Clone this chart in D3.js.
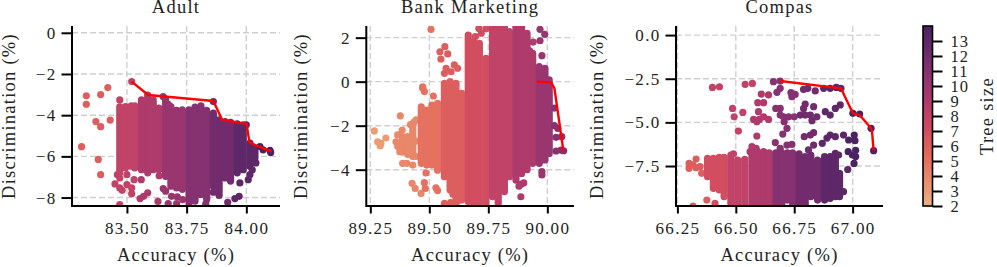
<!DOCTYPE html>
<html><head><meta charset="utf-8">
<script src="https://cdnjs.cloudflare.com/ajax/libs/d3/7.8.5/d3.min.js"></script>
<style>html,body{margin:0;padding:0;background:#fff}svg{display:block}
text{font-family:"Liberation Serif",serif;fill:#222}</style></head><body><div id="c"></div>
<script>
// Stacked runs: [tree size, accuracy, discrimination low, discrimination high]
const adultRuns=[
[8,83.47,-6.8,-3.6],[8,83.494,-6.56,-3.58],[8,83.518,-6.48,-3.55],[8,83.533,-6.56,-3.55],
[9,83.561,-6.65,-3.26],[9,83.587,-6.8,-3.02],[9,83.61,-6.65,-3.26],[9,83.634,-6.65,-3.66],
[10,83.662,-6.97,-3.26],[10,83.684,-7.45,-3.58],[10,83.708,-7.53,-3.77],[10,83.732,-7.6,-3.74],
[11,83.76,-8.26,-3.74],[11,83.785,-8.18,-3.61],[11,83.81,-7.85,-3.55],[11,83.834,-8.1,-3.77],
[12,83.862,-7.45,-3.9],[12,83.886,-7.9,-4.23],[12,83.911,-7.05,-4.31],[12,83.934,-7.2,-4.35],
[13,83.962,-6.8,-4.42],[13,83.987,-6.65,-4.47],[13,84.015,-6.48,-5.35],[13,84.036,-6.08,-5.6]];
// Single dots: [tree size, accuracy, discrimination]
const adultDots=[
[6,83.31,-5.53],[6,83.33,-3.06],[6,83.33,-3.47],[6,83.37,-4.31],[6,83.39,-4.56],[6,83.39,-3.0],[6,83.42,-2.66],[6,83.43,-4.24],[6,83.38,-6.15],[6,83.39,-6.89],
[8,83.47,-3.26],[8,83.46,-6.89],[8,83.47,-7.05],[8,83.45,-7.34],[8,83.47,-7.53],[8,83.5,-7.37],[8,83.5,-6.89],[8,83.52,-7.53],[8,83.53,-7.13],[8,83.52,-7.81],[8,83.48,-7.65],[8,83.47,-8.34],[8,83.52,-2.37],
[9,83.56,-7.13],[9,83.555,-8.05],[9,83.587,-7.77],[9,83.635,-6.94],[9,83.63,-8.19],[9,83.57,-7.94],
[10,83.652,-3.1],[10,83.673,-3.47],[10,83.662,-7.69],[10,83.687,-7.94],[10,83.711,-7.97],[10,83.673,-8.29],[10,83.708,-8.29],[10,83.733,-8.1],[10,83.652,-7.56],
[11,83.83,-8.3],
[12,83.862,-3.34],[12,83.862,-7.74],[12,83.883,-7.61],[12,83.922,-8.23],
[13,84.0,-4.47],[13,83.973,-7.29],[13,83.952,-8.05],[13,83.97,-7.94],[13,84.008,-7.13],[13,84.015,-6.89],[13,84.025,-6.65],[13,84.04,-6.32],
[14,84.057,-5.52],[14,84.07,-5.68],[14,84.099,-5.71],[14,84.102,-5.81]];
const adultFront=[[83.52,-2.37],[83.589,-3.02],[83.862,-3.31],[83.899,-4.23],[84.001,-4.42],[84.013,-5.32],[84.05,-5.52],[84.106,-5.76]];

const bankRuns=[
[4,89.387,-3.2,-2.5],[4,89.408,-3.3,-2.5],[4,89.43,-3.4,-2.1],
[5,89.466,-3.71,-1.14],[5,89.489,-3.79,-1.29],[5,89.511,-3.79,-1.06],[5,89.535,-4.02,-0.98],
[6,89.564,-4.32,-0.08],[6,89.588,-4.92,0],[6,89.613,-5.53,-0.08],[6,89.637,-5.38,-0.53],
[7,89.665,-5.45,2.12],[7,89.688,-5.65,1.82],[7,89.712,-5.65,1.74],[7,89.74,-5.65,1.06],
[8,89.768,-5.23,2.55],[8,89.792,-5.53,2.55],[8,89.818,-5,2.55],[8,89.839,-4.32,2.27],
[9,89.867,-4.47,2.55],[9,89.891,-4.17,2.55],[9,89.914,-4,2.2],[9,89.938,-3.71,1.29],
[10,89.966,-3.71,0.68],[10,89.99,-3.56,0.61],[10,90.008,-3.26,0.08]];
const bankDots=[
[3,89.267,-2.24],[3,89.281,-2.73],[3,89.292,-2.91],[3,89.316,-2.56],[3,89.295,-2.8],
[4,89.377,-1.55],[4,89.427,-4.62],[4,89.44,-4.85],[4,89.465,-5.08],[4,89.366,-2.42],[4,89.359,-2.73],[4,89.366,-2.95],[4,89.375,-3.18],[4,89.385,-2.2],[4,89.387,-3.71],[4,89.405,-3.71],[4,89.43,-3.79],[4,89.42,-1.95],[4,89.434,-1.85],[4,89.444,-1.74],[4,89.444,-3.4],[4,89.444,-2.7],
[5,89.472,-0.23],[5,89.479,-0.45],[5,89.472,-0.3],[5,89.517,-0.65],[5,89.507,2.38],[5,89.479,-4.59],[5,89.483,-4.85],[5,89.486,-4.15],[5,89.528,-4.82],[5,89.535,-4.95],
[6,89.566,1.59],[6,89.545,1.36],[6,89.578,1.26],[6,89.549,1.03],[6,89.571,0.61],[6,89.606,0.76],[6,89.592,0.45],[6,89.62,0.61],[6,89.564,0.38],[6,89.564,-5.53],[6,89.59,-5.5],[6,89.6,-5.12],[6,89.62,-5.42],
[7,89.71,2.42],[7,89.72,2.2],[7,89.695,2.05],[7,89.74,2.4],
[9,89.89,-4.65],[9,89.9,-4.6],[9,89.88,-4.75],[9,89.888,-5.23],[9,89.94,1.8],[9,89.925,1.4],
[10,89.969,2.38],[10,89.989,2.15],[10,89.969,1.86],[10,89.977,1.18],[10,89.977,-4.09],[10,89.977,-4.24],
[11,90.037,-3.15],[11,90.058,-3.11],[11,90.069,-3.14],[11,90.037,-2.53],[11,90.061,-2.5],[11,90.044,-2.12],[11,90.03,-1.2],[11,90.03,-2.0]];
const bankFront=[[89.955,0],[90.016,-0.03],[90.03,-0.3],[90.068,-3.14]];

const compasRuns=[
[7,66.379,-8.11,-7.06],[7,66.404,-8.78,-7.06],[7,66.429,-8.87,-7],[7,66.45,-9.26,-7],
[8,66.479,-9.8,-6.87],[8,66.508,-9.8,-7.16],[8,66.538,-9.8,-7.12],
[9,66.569,-9.8,-6.77],[9,66.593,-9.8,-6.68],[9,66.619,-9.8,-6.68],[9,66.643,-9.8,-6.74],
[11,66.671,-9.8,-6.74],[11,66.697,-9.8,-6.74],[11,66.721,-9.45,-6.74],[11,66.743,-9.65,-6.74],
[12,66.771,-9.8,-6.81],[12,66.797,-9.8,-6.96],[12,66.821,-9.26,-6.87],[12,66.85,-9.45,-7.16],
[13,66.88,-9.45,-6.96],[13,66.904,-9.35,-6.96],[13,66.926,-9.26,-6.77],[13,66.944,-9.26,-7.92]];
const compasDots=[
[6,66.3,-7.35],[6,66.3,-7.63],[6,66.33,-7.1],[6,66.317,-7.44],[6,66.347,-7.54],[6,66.354,-7.92],[6,66.33,-7.6],[6,66.376,-9.45],[6,66.317,-9.8],
[7,66.411,-9.64],
[8,66.486,-4.2],[8,66.493,-4.68],[8,66.53,-4.43],[8,66.511,-5.5],[8,66.4,-3.0],[8,66.43,-2.96],[8,66.54,-2.82],[8,66.571,-2.77],[8,66.49,-6.8],
[9,66.59,-5.78],[9,66.569,-6.39],[9,66.587,-6.49],[9,66.561,-6.68],[9,66.594,-3.87],[9,66.619,-3.87],[9,66.609,-3.38],[9,66.64,-3.43],[9,66.576,-4.83],[9,66.601,-4.83],[9,66.619,-4.68],[9,66.64,-4.83],[9,66.59,-4.96],[9,66.597,-4.39],
[11,66.661,-2.67],[11,66.69,-2.63],[11,66.69,-3.05],[11,66.676,-3.28],[11,66.671,-4.2],[11,66.69,-4.2],[11,66.69,-4.58],[11,66.707,-4.96],[11,66.704,-4.68],[11,66.726,-4.68],[11,66.75,-4.68],[11,66.719,-5.34],[11,66.701,-5.67],[11,66.669,-6.16],[11,66.69,-6.49],[11,66.719,-6.3],[11,66.74,-6.26],[11,66.754,-3.4],[11,66.74,-3.53],[11,66.736,-3.3],
[12,66.79,-3.11],[12,66.808,-3.05],[12,66.797,-3.95],[12,66.79,-4.2],[12,66.776,-4.58],[12,66.797,-4.58],[12,66.833,-4.1],[12,66.819,-4.58],[12,66.847,-4.68],[12,66.826,-4.9],[12,66.793,-5.82],[12,66.819,-5.73],[12,66.833,-5.59],[12,66.833,-6.3],[12,66.811,-6.58],[12,66.84,-3.2],
[13,66.876,-3.05],[13,66.904,-3.05],[13,66.93,-3.0],[13,66.883,-4.39],[13,66.904,-4.58],[13,66.926,-4.2],[13,66.947,-4.0],[13,66.904,-5.73],[13,66.926,-5.82],[13,66.961,-5.73],[13,66.89,-5.9],[13,66.87,-6.2],[13,66.926,-6.87],[13,66.94,-6.87],[13,66.961,-8.97],[13,66.979,-7.7],[13,66.95,-3.05],
[14,66.983,-6.01],[14,67.007,-5.73],[14,67.01,-6.05],[14,66.981,-6.68],[14,66.999,-6.87],[14,67.013,-6.6],[14,67.013,-6.96],[14,67.006,-7.35],[14,67.001,-4.48],[14,67.03,-4.52],[14,67.079,-5.34],[14,67.09,-6.62]];
const compasFront=[[66.69,-2.63],[66.95,-3.05],[67.001,-4.48],[67.03,-4.58],[67.079,-5.34],[67.083,-5.53],[67.09,-6.62]];

const flareStops=["#edb081","#e98d6b","#e3685c","#d14a61","#b13c6c","#8f3371","#6c2b6d","#4b2362"];
const barTicks=[2,3,4,5,6,7,8,9,10,11,12,13];
const panelNames=["Adult","Bank Marketing","Compas"];
const adultXTicks=[83.5,83.75,84],adultYTicks=[0,-2,-4,-6,-8];
const bankXTicks=[89.25,89.5,89.75,90],bankYTicks=[2,0,-2,-4];
const compasXTicks=[66.25,66.5,66.75,67],compasYTicks=[0,-2.5,-5,-7.5];

const W=997,H=267,plotT=26,plotB=206;
const color=d3.scaleSequential([2,14],d3.piecewise(d3.interpolateRgb,flareStops));
const svg=d3.select("#c").append("svg").attr("width",W).attr("height",H);
const clipDefs=svg.append("defs");
const fmtMinus=s=>s.replace("-","\u2212");
const panels=[
 {title:panelNames[0],L:72,R:280,xd:[83.27,84.141],yd:[0.33,-8.41],xt:adultXTicks,yt:adultYTicks,xf:".2f",yf:"d",ylabX:15,runs:adultRuns,dots:adultDots,front:adultFront},
 {title:panelNames[1],L:366.3,R:574,xd:[89.233,90.113],yd:[2.53,-5.65],xt:bankXTicks,yt:bankYTicks,xf:".2f",yf:"d",ylabX:307,runs:bankRuns,dots:bankDots,front:bankFront},
 {title:panelNames[2],L:676,R:883,xd:[66.244,67.13],yd:[0.52,-9.79],xt:compasXTicks,yt:compasYTicks,xf:".2f",yf:".1f",ylabX:603,runs:compasRuns,dots:compasDots,front:compasFront}];
panels.forEach((p,i)=>{
 const x=d3.scaleLinear(p.xd,[p.L,p.R]),y=d3.scaleLinear(p.yd,[plotT,plotB]);
 clipDefs.append("clipPath").attr("id","clip"+i).append("rect").attr("x",p.L).attr("y",plotT).attr("width",p.R-p.L).attr("height",plotB-plotT);
 const g=svg.append("g");
 const grid=g.append("g").attr("stroke","#cfcfcf").attr("stroke-width",1.4).attr("stroke-dasharray","6,3");
 grid.selectAll(".v").data(p.xt).join(e=>e.append("line").attr("class","v")).attr("x1",d=>x(d)).attr("x2",d=>x(d)).attr("y1",plotT).attr("y2",plotB);
 grid.selectAll(".h").data(p.yt).join(e=>e.append("line").attr("class","h")).attr("y1",d=>y(d)).attr("y2",d=>y(d)).attr("x1",p.L).attr("x2",p.R);
 const marks=g.append("g").attr("clip-path",`url(#clip${i})`);
 d3.range(2,15).forEach(s=>{
  marks.selectAll(null).data(p.runs.filter(r=>r[0]===s)).join("line")
   .attr("x1",d=>x(d[1])).attr("x2",d=>x(d[1])).attr("y1",d=>y(d[2])).attr("y2",d=>y(d[3]))
   .attr("stroke",d=>color(d[0])).attr("stroke-width",7.2).attr("stroke-linecap","round");
  marks.selectAll(null).data(p.dots.filter(r=>r[0]===s)).join("circle")
   .attr("cx",d=>x(d[1])).attr("cy",d=>y(d[2])).attr("r",3.6).attr("fill",d=>color(d[0]));
 });
 marks.append("path").datum(p.front).attr("fill","none").attr("stroke","#ff0000").attr("stroke-width",2.4).attr("stroke-linejoin","round")
  .attr("d",d3.line().x(d=>x(d[0])).y(d=>y(d[1])));
 const xa=g.append("g").attr("transform",`translate(0,${plotB})`).call(d3.axisBottom(x).tickValues(p.xt).tickSize(7.5).tickPadding(8).tickFormat(d3.format(p.xf)));
 const ya=g.append("g").attr("transform",`translate(${p.L},0)`).call(d3.axisLeft(y).tickValues(p.yt).tickSize(10.5).tickPadding(5).tickFormat(d=>fmtMinus(d3.format(p.yf)(d))));
 [xa,ya].forEach(a=>{a.selectAll("path").attr("stroke","#000").attr("stroke-width",2);
  a.select("path").attr("d",a===xa?`M${p.L},0H${p.R}`:`M0,${plotT}V${plotB+1}`);
  a.selectAll("line").attr("stroke","#000").attr("stroke-width",2);
  a.selectAll("text").attr("font-size",17).attr("letter-spacing",1.3).attr("font-family","Liberation Serif").attr("fill","#222");});
 const cx=(p.L+p.R)/2;
 g.append("text").attr("x",cx).attr("y",13).attr("text-anchor","middle").attr("font-size",18.5).attr("letter-spacing",1.25).text(p.title);
 g.append("text").attr("x",cx).attr("y",261).attr("text-anchor","middle").attr("font-size",18.5).attr("letter-spacing",1.25).text("Accuracy (%)");
 g.append("text").attr("transform",`translate(${p.ylabX},116) rotate(-90)`).attr("text-anchor","middle").attr("font-size",18.5).attr("letter-spacing",1.25).text("Discrimination (%)");
});
// colour bar
const cbY=d3.scaleLinear([2,14],[206,26]);
const grad=clipDefs.append("linearGradient").attr("id","bar").attr("x1",0).attr("x2",0).attr("y1",1).attr("y2",0);
flareStops.forEach((c,i)=>grad.append("stop").attr("offset",i/(flareStops.length-1)).attr("stop-color",c));
svg.append("rect").attr("x",923).attr("y",26).attr("width",9.5).attr("height",180).attr("fill","url(#bar)").attr("stroke","#000").attr("stroke-width",1.6);
const cb=svg.append("g").attr("transform","translate(932.5,0)").call(d3.axisRight(cbY).tickValues(barTicks).tickSize(10).tickPadding(8).tickFormat(d3.format("d")));
cb.select("path").remove();
cb.selectAll("line").attr("stroke","#000").attr("stroke-width",2);
cb.selectAll("text").attr("font-size",16.5).attr("letter-spacing",1).attr("font-family","Liberation Serif").attr("fill","#222");
svg.append("text").attr("transform","translate(993,116) rotate(-90)").attr("text-anchor","middle").attr("font-size",18.5).attr("letter-spacing",1.25).text("Tree size");
</script></body></html>
